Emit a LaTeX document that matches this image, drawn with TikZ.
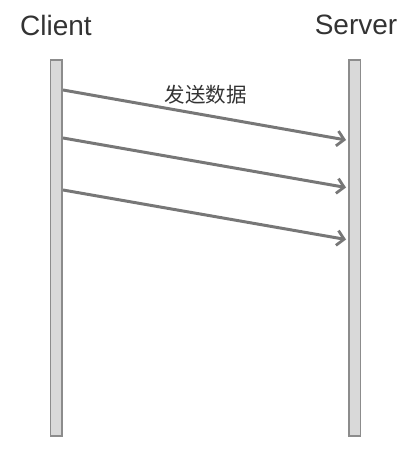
\documentclass[tikz,border=0pt]{standalone}
\usepackage{fontspec}
\setmainfont{Liberation Sans}
\newfontfamily\cjk{Noto Sans CJK SC}
\usetikzlibrary{arrows.meta}
\definecolor{bartxt}{HTML}{333333}
\definecolor{barfill}{HTML}{D9D9D9}
\definecolor{barline}{HTML}{8C8C8C}
\definecolor{msgline}{HTML}{777777}
\begin{document}
\begin{tikzpicture}[x=1pt,y=-1pt,
  lifeline/.style={draw=barline,fill=barfill,line width=1.6pt},
  actor/.style={text=bartxt,font=\fontsize{28}{30}\selectfont,inner sep=0pt},
  msg/.style={draw=msgline,line width=3pt,-{Straight Barb[length=7pt,width=15pt,line width=2.8pt]}},
  msglabel/.style={text=bartxt,font=\cjk\fontsize{20.5}{23}\selectfont,inner sep=0pt}]
\useasboundingbox (0,0) rectangle (419,455);
\fill[lifeline] (50.5,60) rectangle (62,436);
\fill[lifeline] (349,60) rectangle (360.5,436);
\node[actor] (client) at (56,25) {Client};
\node[actor] (server) at (356,25) {Server};
\coordinate (c1) at (63,90);
\coordinate (s1) at (346,140);
\coordinate (c2) at (63,138);
\coordinate (s2) at (346,187.5);
\coordinate (c3) at (63,190);
\coordinate (s3) at (346,239.5);
\draw[msg] (c1) -- (s1);
\draw[msg] (c2) -- (s2);
\draw[msg] (c3) -- (s3);
\node[msglabel] (lbl) at (205.5,95) {发送数据};
\end{tikzpicture}
\end{document}
